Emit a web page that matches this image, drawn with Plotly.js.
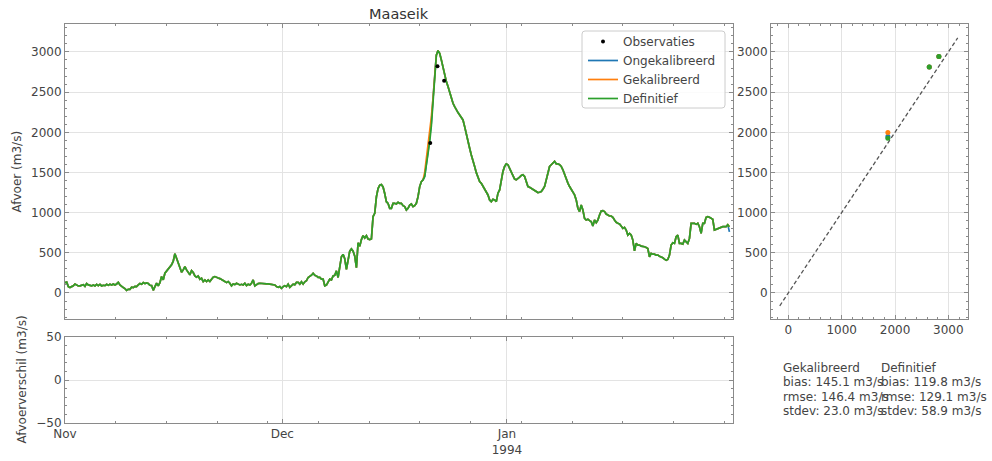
<!DOCTYPE html>
<html>
<head>
<meta charset="utf-8">
<script src="https://cdn.plot.ly/plotly-3.0.1.min.js"></script>
<style>html,body{margin:0;padding:0;background:#fff;}#plot{width:992px;height:461px;}</style>
</head>
<body>
<div id="plot"></div>
<script>
// ---------- DATA ----------
const startDatum = Date.UTC(1993, 10, 1, 0, 0, 0); // 1 Nov 1993
const stapMinuten = 331; // sampling interval of the series

// Definitief discharge (m3/s)
const definitief = [
  129,135,79,67,79,88,112,96,88,88,92,104,83,117,100,96,88,100,88,108,92,108,88,96,92,108,96,108,100,112,100,112,133,100,79,67,54,33,46,46,71,67,83,79,100,117,108,129,117,125,117,96,92,33,79,121,88,129,204,163,246,275,292,329,350,396,
  488,433,371,308,258,287,329,287,246,225,279,254,212,196,212,171,183,142,163,142,163,142,171,196,204,200,187,179,163,154,142,129,142,121,88,112,104,121,108,100,108,100,121,92,108,100,121,163,88,108,117,121,117,112,112,112,112,108,108,108,100,79,71,79,58,79,
  90,78,110,70,90,110,102,131,131,110,139,110,139,152,193,205,221,246,221,213,193,193,172,172,90,98,139,172,164,213,221,275,193,336,451,480,426,295,418,520,549,520,459,316,623,582,664,713,684,713,672,664,672,951,992,1197,1300,1341,1349,1320,1238,1136,1115,1054,1054,1115,
  1116,1108,1129,1116,1116,1087,1075,1033,1054,1095,1108,1075,1087,1116,1199,1324,1386,1407,1450,1580,1720,1880,2080,2420,2750,2960,3017,2984,2901,2797,2714,2631,2569,2494,2423,2361,2320,2278,2245,2216,2187,2154,2071,1967,1884,1801,1718,1656,1573,1498,1448,1386,1365,1324,1282,1249,1220,1158,1137,1166,
  1158,1137,1242,1283,1408,1513,1575,1608,1596,1554,1492,1450,1417,1408,1421,1442,1463,1471,1450,1388,1325,1317,1304,1292,1283,1263,1250,1254,1263,1292,1325,1408,1513,1575,1596,1617,1638,1608,1608,1596,1575,1533,1471,1408,1367,1325,1292,1263,1221,1158,1054,1013,1096,1033,929,908,917,900,888,833,908,875,908,971,1021,1025,1013,983,971,
  958,958,942,908,879,867,858,833,804,817,783,721,742,721,658,525,617,596,596,583,583,575,567,554,450,492,483,483,471,471,458,450,438,421,408,417,471,596,625,617,700,721,617,617,608,658,638,617,679,867,867,867,854,867,825,742,867,867,942,950,942,929,917,783,792,804,804,817,825,825,825,850,825
];

// Where Gekalibreerd / Ongekalibreerd visibly differ from Definitief (sample index, value)
const gekalIndex = [216, 217, 218, 219, 220];
const gekalWaarden = [1500, 1660, 1810, 2000, 2190];
const ongekalIndex = [218, 219, 220, 399];
const ongekalWaarden = [1760, 1930, 2120, 760];

// Observations
const obsDatums = ['1993-12-21 10:00', '1993-12-22 10:00', '1993-12-23 08:00'];
const obsWaarden = [1866, 2822, 2642];

// Model values at the observation times (scatter panel)
const ongekalBijObs = [1947, 2943, 2814];
const gekalBijObs = [1996, 2943, 2814];
const defBijObs = [1926, 2943, 2814];

// 1:1 reference line
const lijn11 = [-160, 3175];

// Statistics
const statNamen = ['bias', 'rmse', 'stdev'];
const gekalStats = [145.1, 146.4, 23.0];
const defStats = [119.8, 129.1, 58.9];

// Axis ticks
const maandTicks = ['1993-11-01', '1993-12-01', '1994-01-01'];
const maandLabels = ['Nov', 'Dec', 'Jan<br>1994'];

// ---------- BUILD ----------
function fmt(ms) {
  const d = new Date(ms);
  const p = n => String(n).padStart(2, '0');
  return d.getUTCFullYear() + '-' + p(d.getUTCMonth() + 1) + '-' + p(d.getUTCDate()) + ' ' +
         p(d.getUTCHours()) + ':' + p(d.getUTCMinutes()) + ':00';
}
const tijden = definitief.map((_, i) => fmt(startDatum + i * stapMinuten * 60000));
const gekalibreerd = definitief.slice();
gekalIndex.forEach((k, j) => { gekalibreerd[k] = gekalWaarden[j]; });
const ongekalibreerd = definitief.slice();
ongekalIndex.forEach((k, j) => { ongekalibreerd[k] = ongekalWaarden[j]; });

const C_BLUE = '#1f77b4', C_ORANGE = '#ff7f0e', C_GREEN = '#2ca02c';
const LW = 1.7;

const traces = [
  {x: tijden, y: ongekalibreerd, type: 'scatter', mode: 'lines', name: 'Ongekalibreerd',
   line: {color: C_BLUE, width: LW}, xaxis: 'x', yaxis: 'y', legendrank: 2},
  {x: tijden, y: gekalibreerd, type: 'scatter', mode: 'lines', name: 'Gekalibreerd',
   line: {color: C_ORANGE, width: LW}, xaxis: 'x', yaxis: 'y', legendrank: 3},
  {x: tijden, y: definitief, type: 'scatter', mode: 'lines', name: 'Definitief',
   line: {color: C_GREEN, width: LW}, xaxis: 'x', yaxis: 'y', legendrank: 4},
  {x: obsDatums, y: obsWaarden, type: 'scatter', mode: 'markers', name: 'Observaties',
   marker: {color: 'black', size: 4}, xaxis: 'x', yaxis: 'y', legendrank: 1},
  // difference panel (no visible differences in the reference)
  {x: [], y: [], type: 'scatter', mode: 'lines', showlegend: false, xaxis: 'x2', yaxis: 'y2'},
  {x: lijn11, y: lijn11, type: 'scatter', mode: 'lines', showlegend: false,
   line: {color: '#555', width: 1.3, dash: '4px,2.5px'}, xaxis: 'x3', yaxis: 'y3'},
  {x: obsWaarden, y: ongekalBijObs, type: 'scatter', mode: 'markers', showlegend: false,
   marker: {color: C_BLUE, size: 5}, xaxis: 'x3', yaxis: 'y3'},
  {x: obsWaarden, y: gekalBijObs, type: 'scatter', mode: 'markers', showlegend: false,
   marker: {color: C_ORANGE, size: 5}, xaxis: 'x3', yaxis: 'y3'},
  {x: obsWaarden, y: defBijObs, type: 'scatter', mode: 'markers', showlegend: false,
   marker: {color: C_GREEN, size: 5}, xaxis: 'x3', yaxis: 'y3'}
];

const W = 992, H = 461;
const px = v => v / W, py = v => 1 - v / H;
const AX = '#8a8a8a', GRID = '#e3e3e3', TXT = '#444';

const base = {
  showline: true, linecolor: AX, linewidth: 1, mirror: 'ticks',
  ticks: 'inside', ticklen: 4, tickcolor: AX, tickwidth: 1,
  gridcolor: GRID, gridwidth: 1, zeroline: false, fixedrange: true,
  tickfont: {size: 12, color: TXT, family: 'DejaVu Sans'}
};
const xDom = [px(65), px(733)];
const yMainDom = [py(319), py(24)];

const dateMinor = {ticks: 'inside', ticklen: 2, tickcolor: AX, dtick: 7 * 86400000, tick0: '1993-11-01', showgrid: false};
const xRange = ['1993-11-01 00:00', '1994-02-01 05:00'];

const annotations = [
  {text: 'Maaseik', x: px(399), y: py(14), xref: 'paper', yref: 'paper', showarrow: false,
   font: {size: 14.5, color: '#333'}, xanchor: 'center', yanchor: 'middle'},
  {text: 'Afvoer (m3/s)', x: px(16.5), y: py(172), xref: 'paper', yref: 'paper', showarrow: false,
   textangle: -90, font: {size: 12, color: TXT}, xanchor: 'center', yanchor: 'middle'},
  {text: 'Afvoerverschil (m3/s)', x: px(21.5), y: py(380), xref: 'paper', yref: 'paper', showarrow: false,
   textangle: -90, font: {size: 12, color: TXT}, xanchor: 'center', yanchor: 'middle'}
];
const kolommen = [['Gekalibreerd', gekalStats, 780.5], ['Definitief', defStats, 879]];
const rijY = [367.5, 382, 396.5, 410.5];
kolommen.forEach(([naam, stats, xpos]) => {
  const regels = [naam].concat(statNamen.map((s, i) => s + ': ' + stats[i].toFixed(1) + ' m3/s'));
  regels.forEach((t, i) => annotations.push({
    text: t, x: px(xpos), y: py(rijY[i]), xref: 'paper', yref: 'paper', showarrow: false,
    xanchor: 'left', yanchor: 'middle', font: {size: 12, color: TXT}
  }));
});

// legend frame (rounded) drawn as a shape
const lx0 = px(582), lx1 = px(725), ly0 = py(108), ly1 = py(31);
const rx = px(3) - px(0), ry = 3 / H;
const legendPad = `M ${lx0 + rx},${ly1} L ${lx1 - rx},${ly1} Q ${lx1},${ly1} ${lx1},${ly1 - ry} ` +
  `L ${lx1},${ly0 + ry} Q ${lx1},${ly0} ${lx1 - rx},${ly0} L ${lx0 + rx},${ly0} Q ${lx0},${ly0} ${lx0},${ly0 + ry} ` +
  `L ${lx0},${ly1 - ry} Q ${lx0},${ly1} ${lx0 + rx},${ly1} Z`;

const layout = {
  width: W, height: H,
  margin: {l: 0, r: 0, t: 0, b: 0},
  paper_bgcolor: 'white', plot_bgcolor: 'white',
  font: {family: 'DejaVu Sans', size: 12, color: TXT},
  showlegend: true,
  legend: {x: px(583), xanchor: 'left', y: py(27), yanchor: 'top',
           bgcolor: 'rgba(0,0,0,0)', borderwidth: 0,
           font: {size: 12, color: TXT}, tracegroupgap: 0},
  shapes: [{type: 'path', path: legendPad, xref: 'paper', yref: 'paper', layer: 'above',
            fillcolor: 'rgba(255,255,255,0.85)', line: {color: '#cccccc', width: 1}}],
  xaxis: Object.assign({}, base, {domain: xDom, anchor: 'y', type: 'date', range: xRange,
           tickmode: 'array', tickvals: maandTicks, ticktext: maandLabels, showticklabels: false,
           minor: dateMinor}),
  yaxis: Object.assign({}, base, {domain: yMainDom, anchor: 'x', range: [-324, 3348], dtick: 500, tick0: 0,
           minor: {ticks: 'inside', ticklen: 2, tickcolor: AX, dtick: 100, showgrid: false}}),
  xaxis2: Object.assign({}, base, {domain: xDom, anchor: 'y2', type: 'date', range: xRange, matches: 'x',
           tickmode: 'array', tickvals: maandTicks, ticktext: maandLabels, minor: dateMinor}),
  yaxis2: Object.assign({}, base, {domain: [py(423), py(337)], anchor: 'x2', range: [-50, 50], dtick: 50, tick0: 0,
           minor: {ticks: 'inside', ticklen: 2, tickcolor: AX, dtick: 10, showgrid: false}}),
  xaxis3: Object.assign({}, base, {domain: [px(771), px(968)], anchor: 'y3', range: [-324, 3368], dtick: 1000, tick0: 0,
           minor: {ticks: 'inside', ticklen: 2, tickcolor: AX, dtick: 200, showgrid: false}}),
  yaxis3: Object.assign({}, base, {domain: yMainDom, anchor: 'x3', range: [-324, 3348], dtick: 500, tick0: 0,
           minor: {ticks: 'inside', ticklen: 2, tickcolor: AX, dtick: 100, showgrid: false}}),
  annotations: annotations
};

Plotly.newPlot('plot', traces, layout, {staticPlot: true, displayModeBar: false});
</script>
</body>
</html>
